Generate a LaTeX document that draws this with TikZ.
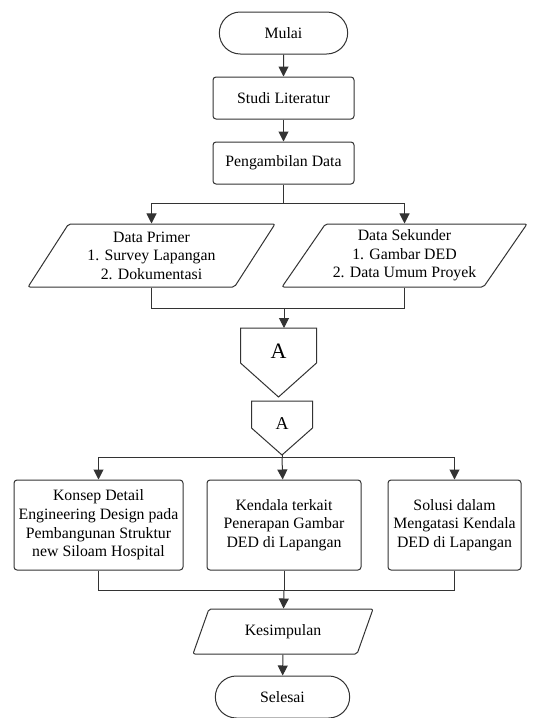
\documentclass[tikz,border=0pt]{standalone}
\usepackage{fontspec}
\setmainfont{Liberation Serif}
\usetikzlibrary{shapes,arrows.meta,positioning,calc}

\begin{document}
\begin{tikzpicture}[
    x=1pt, y=-1pt,
    font=\fontsize{15.8}{18.6}\selectfont,
    line width=1pt,
    terminal/.style={rounded rectangle, draw=black!80, minimum width=135pt, minimum height=42pt},
    process/.style={rectangle, draw=black!80, rounded corners=3pt, align=center, inner sep=2pt},
    io/.style={trapezium, trapezium left angle=52, trapezium right angle=128, trapezium stretches body, draw=black!80, rounded corners=2pt, align=center, inner sep=2pt, minimum height=63pt},
    pagebox/.style={rectangle, inner sep=0pt, anchor=north},
    arrow/.style={draw=black!80, -{Triangle[width=10pt,length=10pt]}},
    line/.style={draw=black!80}
]
\path[use as bounding box, fill=white] (0,0) rectangle (533,718);

\node[terminal] (mulai) at (283.5,33) {Mulai};
\node[process, minimum width=141pt, minimum height=42pt, below=22pt of mulai] (studi) {Studi Literatur};
\node[process, minimum width=141pt, minimum height=42pt, below=22pt of studi] (ambil) {Pengambilan Data};

\node[io, minimum width=247pt] (primer) at (151.5,255.5) {Data Primer\\1. Survey Lapangan\\2. Dokumentasi};
\node[io, minimum width=245pt] (sekunder) at (404.5,255.5) {Data Sekunder\\1. Gambar DED\\2. Data Umum Proyek};

% konektor halaman A
\node[pagebox, minimum width=75pt, minimum height=45pt, font=\fontsize{22}{24}\selectfont] (offA) at (278.5,328) {A};
\draw[line] (offA.north west) -- (offA.north east) -- ++(0,35) -- ($(offA.north)+(0,69)$) -- ($(offA.north west)+(0,35)$) -- cycle;
\node[pagebox, minimum width=60pt, minimum height=44pt, font=\fontsize{18}{20}\selectfont] (onA) at (282,401) {A};
\draw[line] (onA.north west) -- (onA.north east) -- ++(0,27) -- ($(onA.north)+(0,54)$) -- ($(onA.north west)+(0,27)$) -- cycle;
\coordinate (onAtip) at ($(onA.north)+(0,54)$);

\node[process, minimum width=169pt, minimum height=90pt] (konsep) at (98.5,525) {Konsep Detail\\Engineering Design pada\\Pembangunan Struktur\\new Siloam Hospital};
\node[process, minimum width=154pt, minimum height=90pt] (kendala) at (284,525) {Kendala terkait\\Penerapan Gambar\\DED di Lapangan};
\node[process, minimum width=133pt, minimum height=90pt] (solusi) at (454.5,525) {Solusi dalam\\Mengatasi Kendala\\DED di Lapangan};

\node[io, trapezium left angle=49, trapezium right angle=131, minimum width=180pt, minimum height=45pt] (kesimpulan) at (283,631.5) {Kesimpulan};
\node[terminal, minimum width=141pt] (selesai) at (282.5,697) {Selesai};

% titik cabang dan gabung
\coordinate (fork1) at (283.5,203);
\coordinate (merge1) at (284,308);
\coordinate (fork2) at (282,457);
\coordinate (merge2) at (284,590);

\draw[arrow] (mulai) -- (studi);
\draw[arrow] (studi) -- (ambil);
\draw[line] (ambil) -- (fork1);
\draw[arrow] (fork1) -| (primer);
\draw[arrow] (fork1) -| (sekunder);
\draw[line] (primer) |- (merge1);
\draw[line] (sekunder) |- (merge1);
\draw[arrow] (merge1) -- (merge1 |- offA.north);

\draw[line] (onAtip) -- (fork2);
\draw[arrow] (fork2) -| (konsep);
\draw[arrow] (fork2) -- (kendala);
\draw[arrow] (fork2) -| (solusi);
\draw[line] (konsep) |- (merge2);
\draw[line] (kendala) -- (merge2);
\draw[line] (solusi) |- (merge2);
\draw[arrow] (merge2) -- (kesimpulan);
\draw[arrow] (kesimpulan) -- (selesai);

\end{tikzpicture}
\end{document}
